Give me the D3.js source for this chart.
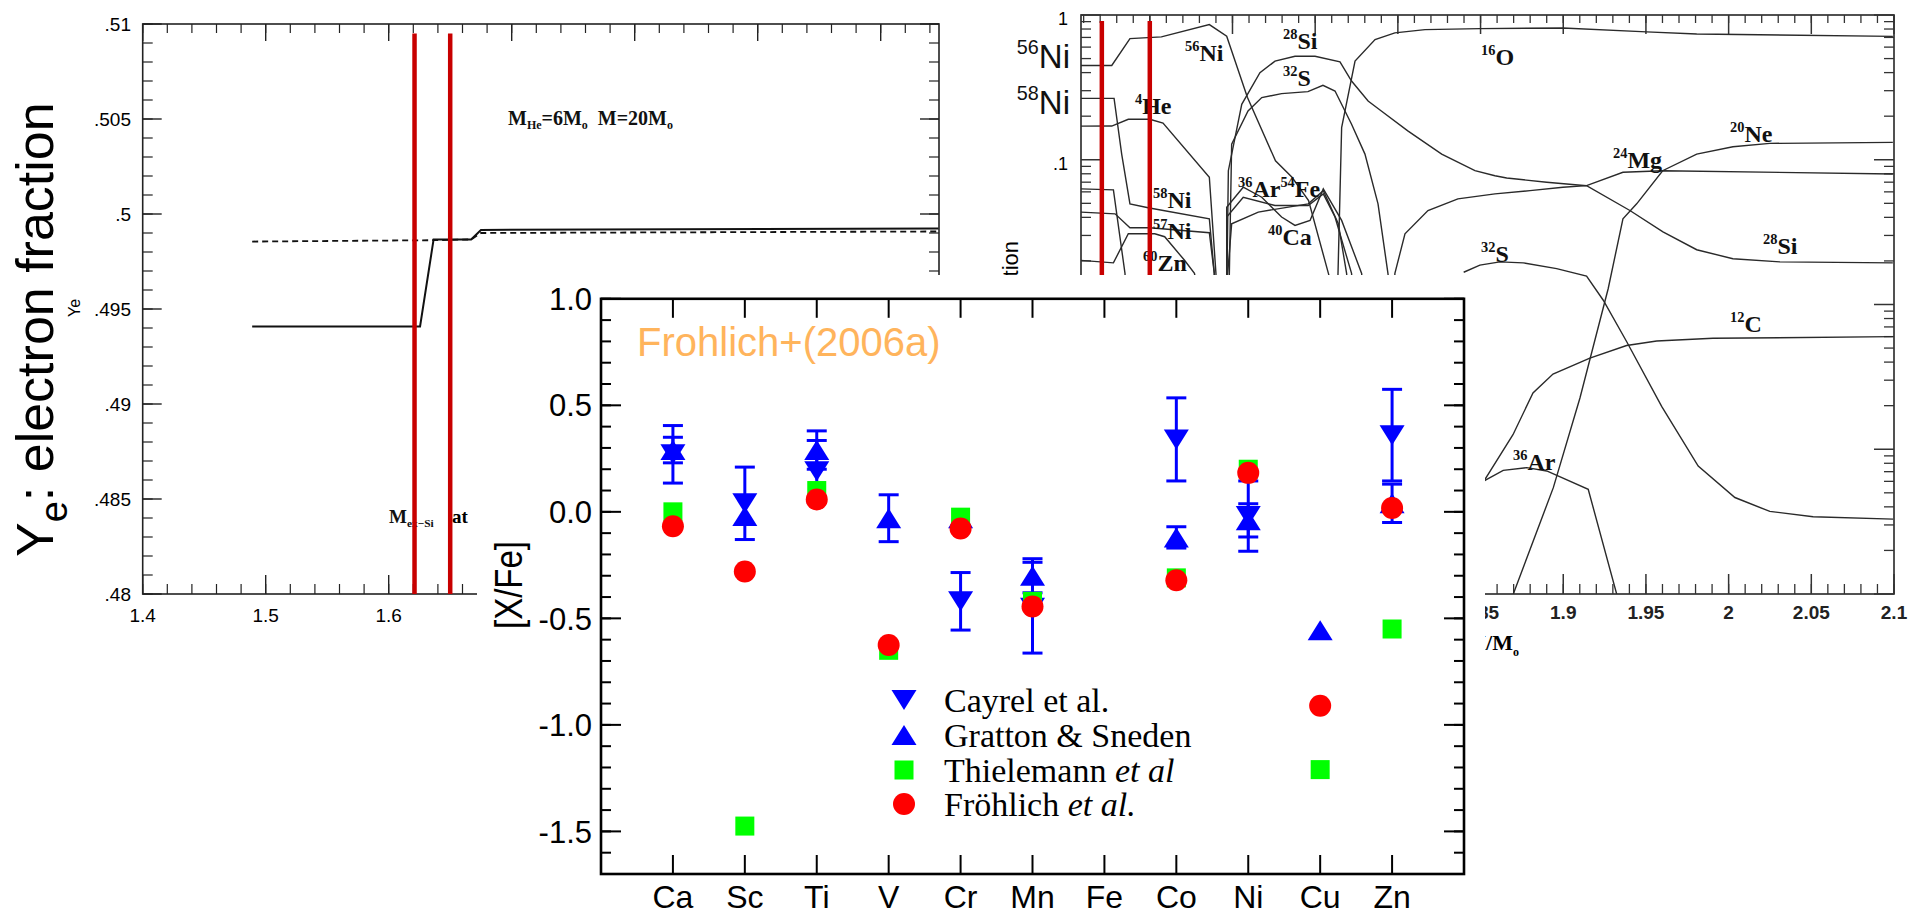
<!DOCTYPE html>
<html>
<head>
<meta charset="utf-8">
<script src="https://cdn.jsdelivr.net/npm/d3@7"></script>
<style>
  body { margin: 0; background: #fff; }
  svg { display: block; }
</style>
</head>
<body>
<div id="chart"></div>
<script>
// ---------- main chart: [X/Fe] ----------
var elements   = ["Ca", "Sc", "Ti", "V", "Cr", "Mn", "Fe", "Co", "Ni", "Cu", "Zn"];
var cayrel     = [0.27, 0.04, 0.19, null, -0.42, -0.45, null, 0.34, -0.02, null, 0.36];
var cayrelErr  = [0.135, 0.17, 0.145, null, 0.135, 0.213, null, 0.195, 0.165, null, 0.215];
var gratton    = [0.29, -0.02, 0.29, -0.03, -0.03, -0.30, null, -0.12, -0.04, -0.556, 0.04];
var grattonErr = [0.06, 0, 0.09, 0.11, 0, 0.08, null, 0.05, 0.078, 0, 0.09];
var thielemann = [0.0, -1.475, 0.10, -0.65, -0.025, -0.42, null, -0.31, 0.20, -1.21, -0.55];
var frohlich   = [-0.068, -0.28, 0.058, -0.625, -0.078, -0.444, null, -0.321, 0.183, -0.91, 0.018];
var xfeTicks   = [1.0, 0.5, 0.0, -0.5, -1.0, -1.5];
var xfeLabels  = ["1.0", "0.5", "0.0", "-0.5", "-1.0", "-1.5"];

// ---------- left panel: Ye vs mass ----------
var yeTicks      = [0.48, 0.485, 0.49, 0.495, 0.5, 0.505, 0.51];
var yeTickLabels = [".48", ".485", ".49", ".495", ".5", ".505", ".51"];
var yeMassTicks  = [1.4, 1.5, 1.6, 1.7, 1.8, 1.9, 2.0];
var yeMassLabels = ["1.4", "1.5", "1.6", "1.7", "1.8", "1.9", "2"];
var yeSolidMass  = [1.489, 1.6255, 1.6365, 1.667, 1.675, 2.047];
var yeSolid      = [0.49408, 0.49408, 0.49866, 0.49866, 0.49916, 0.49924];
var yeDashMass   = [1.489, 1.635, 1.667, 1.675, 2.047];
var yeDash       = [0.49855, 0.49862, 0.49866, 0.49900, 0.49908];
var cutMass      = [1.621, 1.650];

// ---------- right panel: mass fractions [mass, X] ----------
var ni56 = [[1.608,0.448],[1.627,0.448],[1.638,0.687],[1.657,0.706],[1.686,0.858],[1.6965,0.713],[1.709,0.27],[1.726,0.0984],[1.736,0.0757],[1.746,0.0523],[1.758,0.0164],[1.765,0.008]];
var he4  = [[1.608,0.1706],[1.627,0.171],[1.637,0.1905],[1.650,0.1905],[1.658,0.179],[1.686,0.0757],[1.690,0.0164],[1.691,0.002]];
var ni58 = [[1.608,0.2656],[1.6284,0.2656],[1.633,0.1094],[1.638,0.0496],[1.649,0.0466],[1.686,0.0391],[1.689,0.0164],[1.690,0.002]];
var ni57 = [[1.608,0.0435],[1.629,0.0423],[1.638,0.0339],[1.650,0.0339],[1.686,0.0313],[1.689,0.0164],[1.690,0.002]];
var co56 = [[1.608,0.0629],[1.628,0.0619],[1.635,0.0164],[1.636,0.008]];
var zn60 = [[1.608,0.0202],[1.628,0.0194],[1.637,0.0308],[1.653,0.0308],[1.659,0.0294],[1.671,0.0202],[1.677,0.0164],[1.680,0.011]];
var si28 = [[1.6965,0.005],[1.6967,0.0164],[1.6975,0.084],[1.7056,0.2415],[1.7166,0.399],[1.7257,0.48],[1.7378,0.519],[1.7499,0.519],[1.765,0.475],[1.772,0.35],[1.782,0.2545],[1.790,0.2173],[1.806,0.1583],[1.8265,0.1094],[1.8466,0.084],[1.8587,0.0776],[1.8658,0.0748],[1.890,0.0699],[1.9141,0.0662],[1.9403,0.0446],[1.9603,0.0318],[1.9807,0.0239],[2.0026,0.0207],[2.031,0.0197],[2.0993,0.0194]];
var s32Inner = [[1.6973,0.005],[1.6995,0.128],[1.7094,0.2173],[1.7177,0.2687],[1.7297,0.2862],[1.7456,0.2954],[1.7547,0.3265],[1.762,0.2983],[1.772,0.176],[1.7801,0.1094],[1.788,0.0496],[1.794,0.0164],[1.797,0.008]];
var o16  = [[1.763,0.005],[1.7638,0.0164],[1.766,0.167],[1.7741,0.48],[1.7862,0.676],[1.7982,0.752],[1.8164,0.792],[1.8496,0.805],[1.8998,0.814],[1.9504,0.764],[1.9807,0.74],[2.0993,0.712]];
var mg24 = [[1.797,0.008],[1.7982,0.0164],[1.8043,0.0308],[1.8182,0.0446],[1.8363,0.0537],[1.8587,0.0581],[1.8799,0.0612],[1.8998,0.0646],[1.9141,0.0662],[1.9361,0.0819],[1.9603,0.084],[2.0993,0.0797]];
var ne20 = [[1.8698,0.0001],[1.894,0.000543],[1.9101,0.00226],[1.9272,0.0129],[1.9361,0.0391],[1.9444,0.0496],[1.9601,0.084],[1.9807,0.1094],[2.0026,0.1229],[2.0249,0.1297],[2.0993,0.1318]];
var s32Outer = [[1.8398,0.0167],[1.8496,0.0187],[1.8617,0.0197],[1.8758,0.0194],[1.896,0.0177],[1.9141,0.0157],[1.9242,0.0107],[1.9383,0.00555],[1.9595,0.00198],[1.9816,0.000766],[2.0038,0.000464],[2.0249,0.000372],[2.0511,0.000342],[2.0995,0.000329]];
var c12  = [[1.8436,0.000288],[1.8527,0.00062],[1.8696,0.00126],[1.8817,0.00245],[1.8938,0.00331],[1.9161,0.00426],[1.9383,0.00521],[1.9565,0.0056],[1.9905,0.00584],[2.0993,0.006]];
var ar36Outer = [[1.8436,0.000502],[1.8527,0.00061],[1.8637,0.000715],[1.8779,0.000746],[1.89,0.000708],[1.9151,0.000529],[1.9323,0.0001]];
var ar36Inner = [[1.6965,0.005],[1.6965,0.047],[1.7065,0.0646],[1.7177,0.0551],[1.7297,0.0402],[1.7378,0.0352],[1.7469,0.0381],[1.7549,0.0629],[1.766,0.0381],[1.7781,0.0164],[1.78,0.008]];
var fe54 = [[1.6965,0.005],[1.6965,0.0402],[1.7065,0.0551],[1.7257,0.0483],[1.7458,0.0483],[1.7549,0.0581],[1.762,0.0402],[1.772,0.0164],[1.774,0.008]];
var ca40 = [[1.6935,0.005],[1.6995,0.0361],[1.7156,0.0435],[1.7458,0.0496],[1.7549,0.0612],[1.764,0.0361],[1.769,0.0164],[1.771,0.008]];
var massTicks  = [1.65, 1.7, 1.75, 1.8, 1.85, 1.9, 1.95, 2.0, 2.05, 2.1];
var massLabels = ["1.65", "1.7", "1.75", "1.8", "1.85", "1.9", "1.95", "2", "2.05", "2.1"];
var fracTicks  = [1, 0.1, 0.01, 0.001, 0.0001];
var fracLabels = ["1", ".1", ".01", ".001", ".0001"];

var sans = "'Liberation Sans', Arial, Helvetica, sans-serif";
var serif = "'Liberation Serif', 'Times New Roman', serif";

var svg = d3.select("#chart").append("svg")
  .attr("width", 1923).attr("height", 915);

function addTicks(g, vals, side, scale, edge, len, w, color) {
  g.append("g").selectAll("line").data(vals).enter().append("line")
    .attr("x1", function(d) { return (side == "left" || side == "right") ? edge : scale(d); })
    .attr("x2", function(d) {
      if (side == "left") return edge + len;
      if (side == "right") return edge - len;
      return scale(d);
    })
    .attr("y1", function(d) { return (side == "top" || side == "bottom") ? edge : scale(d); })
    .attr("y2", function(d) {
      if (side == "top") return edge + len;
      if (side == "bottom") return edge - len;
      return scale(d);
    })
    .attr("stroke", color).attr("stroke-width", w);
}

// parts: [text, "sup"|"sub"|""]
function richText(g, x, y, parts, size, family, weight, anchor, small) {
  var t = g.append("text").attr("x", x).attr("y", y)
    .attr("font-family", family).attr("font-weight", weight || "normal")
    .attr("text-anchor", anchor || "start").attr("fill", "#111");
  var shift = 0;
  parts.forEach(function(p) {
    var target = p[1] == "sup" ? -size * 0.42 : (p[1] == "sub" ? size * 0.2 : 0);
    t.append("tspan")
      .attr("font-size", p[1] ? size * (small || 0.6) : size)
      .attr("dy", target - shift)
      .text(p[0]);
    shift = target;
  });
  return t;
}

// ===================== left panel =====================
var lp = svg.append("g");
var yeX = d3.scaleLinear().domain([1.4, 2.0474]).range([142.7, 939]);
var yeY = d3.scaleLinear().domain([0.48, 0.51]).range([594, 24]);
var lpColor = "#222";

lp.append("rect").attr("x", yeX.range()[0]).attr("y", yeY.range()[1])
  .attr("width", yeX.range()[1] - yeX.range()[0]).attr("height", yeY.range()[0] - yeY.range()[1])
  .attr("fill", "none").attr("stroke", lpColor).attr("stroke-width", 1.6);

var yeMinor = d3.range(0, 31).map(function(i) { return 0.48 + i * 0.001; });
var massMinorL = d3.range(0, 33).map(function(i) { return 1.4 + i * 0.02; });
addTicks(lp, yeMinor, "left", yeY, yeX.range()[0], 10, 1.2, lpColor);
addTicks(lp, yeTicks, "left", yeY, yeX.range()[0], 19, 1.4, lpColor);
addTicks(lp, yeMinor, "right", yeY, yeX.range()[1], 10, 1.2, lpColor);
addTicks(lp, yeTicks, "right", yeY, yeX.range()[1], 19, 1.4, lpColor);
addTicks(lp, massMinorL, "bottom", yeX, yeY.range()[0], 10, 1.2, lpColor);
addTicks(lp, yeMassTicks, "bottom", yeX, yeY.range()[0], 19, 1.4, lpColor);
addTicks(lp, massMinorL, "top", yeX, yeY.range()[1], 9, 1.2, lpColor);
addTicks(lp, yeMassTicks, "top", yeX, yeY.range()[1], 17, 1.4, lpColor);

lp.selectAll(".yl").data(yeTicks).enter().append("text")
  .attr("x", 131).attr("y", function(d) { return yeY(d); }).attr("dy", "0.35em")
  .attr("text-anchor", "end").attr("font-family", sans).attr("font-size", 19)
  .text(function(d, i) { return yeTickLabels[i]; });
lp.selectAll(".xl").data(yeMassTicks).enter().append("text")
  .attr("x", function(d) { return yeX(d); }).attr("y", 622)
  .attr("text-anchor", "middle").attr("font-family", sans).attr("font-size", 19)
  .text(function(d, i) { return yeMassLabels[i]; });

var yeLine = d3.line()
  .x(function(d) { return yeX(d[0]); })
  .y(function(d) { return yeY(d[1]); });
lp.append("path").datum(d3.zip(yeDashMass, yeDash)).attr("d", yeLine)
  .attr("fill", "none").attr("stroke", "#111").attr("stroke-width", 1.8)
  .attr("stroke-dasharray", "6,4");
lp.append("path").datum(d3.zip(yeSolidMass, yeSolid)).attr("d", yeLine)
  .attr("fill", "none").attr("stroke", "#111").attr("stroke-width", 2);

richText(lp, 508, 125, [["M", ""], ["He", "sub"], ["=6M", ""], ["o", "sub"], ["\u00a0\u00a0M=20M", ""], ["o", "sub"]], 20, serif, "bold");
richText(lp, 389, 523, [["M", ""], ["ex\u2212Si", "sub"]], 19, serif, "bold");
lp.append("text").attr("x", 452).attr("y", 523).attr("font-family", serif)
  .attr("font-weight", "bold").attr("font-size", 19).text("at");

// big axis title
var ytitle = lp.append("text").attr("transform", "translate(53,557) rotate(-90)")
  .attr("font-family", sans).attr("fill", "#000");
ytitle.append("tspan").attr("font-size", 52).text("Y");
ytitle.append("tspan").attr("font-size", 38).attr("dy", 14).text("e");
ytitle.append("tspan").attr("font-size", 52).attr("dy", -14).text(": electron fraction");
lp.append("text").attr("transform", "translate(80,317) rotate(-90)")
  .attr("font-family", sans).attr("font-size", 16).text("Ye");

lp.selectAll(".cut").data(cutMass).enter().append("line")
  .attr("x1", function(d) { return yeX(d); }).attr("x2", function(d) { return yeX(d); })
  .attr("y1", yeY(0.5095)).attr("y2", yeY(0.48))
  .attr("stroke", "#c80000").attr("stroke-width", 4.5);

// ===================== right panel =====================
var rp = svg.append("g");
var xR = d3.scaleLinear().domain([1.6084, 2.1]).range([1081, 1894]);
var yR = d3.scaleLog().domain([1e-4, 1]).range([594, 15]);
var rpColor = "#333";

rp.append("clipPath").attr("id", "rclip").append("rect")
  .attr("x", 1081).attr("y", 15).attr("width", 813).attr("height", 579);

var massMinorR = d3.range(161, 211).map(function(i) { return i / 100; });
var fracMinor = [];
[1e-4, 1e-3, 1e-2, 1e-1].forEach(function(dec) {
  for (var k = 2; k <= 9; k++) fracMinor.push(dec * k);
});
addTicks(rp, massMinorR, "top", xR, 15, 8, 1.3, rpColor);
addTicks(rp, massTicks, "top", xR, 15, 19, 1.5, rpColor);
addTicks(rp, massMinorR, "bottom", xR, 594, 10, 1.3, rpColor);
addTicks(rp, massTicks, "bottom", xR, 594, 20, 1.5, rpColor);
addTicks(rp, fracMinor, "left", yR, 1081, 10, 1.3, rpColor);
addTicks(rp, fracTicks, "left", yR, 1081, 20, 1.5, rpColor);
addTicks(rp, fracMinor, "right", yR, 1894, 10, 1.3, rpColor);
addTicks(rp, fracTicks, "right", yR, 1894, 20, 1.5, rpColor);

rp.append("rect").attr("x", 1081).attr("y", 15).attr("width", 813).attr("height", 579)
  .attr("fill", "none").attr("stroke", rpColor).attr("stroke-width", 1.7);

var rCurves = [ni56, he4, ni58, ni57, co56, zn60, si28, s32Inner, o16, mg24, ne20,
  s32Outer, c12, ar36Outer, ar36Inner, fe54, ca40];
var rLine = d3.line()
  .x(function(d) { return xR(d[0]); })
  .y(function(d) { return yR(d[1]); });
rp.append("g").attr("clip-path", "url(#rclip)")
  .selectAll("path").data(rCurves).enter().append("path")
  .attr("d", rLine).attr("fill", "none").attr("stroke", "#2a2a2a").attr("stroke-width", 1.4);

rp.selectAll(".rxl").data(massTicks).enter().append("text")
  .attr("x", function(d) { return xR(d); }).attr("y", 619)
  .attr("text-anchor", "middle").attr("font-family", sans).attr("font-weight", "bold")
  .attr("font-size", 19).attr("fill", "#222")
  .text(function(d, i) { return massLabels[i]; });
rp.selectAll(".ryl").data(fracTicks).enter().append("text")
  .attr("x", 1068).attr("y", function(d) { return yR(d); }).attr("dy", "0.55em")
  .attr("text-anchor", "end").attr("font-family", sans).attr("font-size", 18)
  .text(function(d, i) { return fracLabels[i]; });

rp.append("text").attr("transform", "translate(1018,241) rotate(-90)")
  .attr("text-anchor", "end").attr("font-family", sans).attr("font-size", 22)
  .text("mass fraction");
rp.append("text").attr("x", 1513).attr("y", 650).attr("text-anchor", "end")
  .attr("font-family", serif).attr("font-weight", "bold").attr("font-size", 22).text("M/M");
rp.append("text").attr("x", 1513).attr("y", 656)
  .attr("font-family", serif).attr("font-weight", "bold").attr("font-size", 12).text("o");

var isoLabels = [
  [1185, 61, [["56", "sup"], ["Ni", ""]]],
  [1283, 49, [["28", "sup"], ["Si", ""]]],
  [1283, 86, [["32", "sup"], ["S", ""]]],
  [1135, 114, [["4", "sup"], ["He", ""]]],
  [1153, 208, [["58", "sup"], ["Ni", ""]]],
  [1153, 239, [["57", "sup"], ["Ni", ""]]],
  [1143, 271, [["60", "sup"], ["Zn", ""]]],
  [1238, 197, [["36", "sup"], ["Ar", ""], ["54", "sup"], ["Fe", ""]]],
  [1268, 245, [["40", "sup"], ["Ca", ""]]],
  [1481, 65, [["16", "sup"], ["O", ""]]],
  [1613, 168, [["24", "sup"], ["Mg", ""]]],
  [1730, 142, [["20", "sup"], ["Ne", ""]]],
  [1763, 254, [["28", "sup"], ["Si", ""]]],
  [1481, 262, [["32", "sup"], ["S", ""]]],
  [1730, 332, [["12", "sup"], ["C", ""]]],
  [1513, 470, [["36", "sup"], ["Ar", ""]]]
];
isoLabels.forEach(function(l) {
  richText(rp, l[0], l[1], l[2], 24, serif, "bold", "start", 0.6);
});
richText(rp, 1070, 68, [["56", "sup"], ["Ni", ""]], 33, sans, "normal", "end");
richText(rp, 1070, 114, [["58", "sup"], ["Ni", ""]], 33, sans, "normal", "end");

rp.selectAll(".cut").data(cutMass).enter().append("line")
  .attr("x1", function(d) { return xR(d); }).attr("x2", function(d) { return xR(d); })
  .attr("y1", yR(0.91)).attr("y2", yR(1e-4))
  .attr("stroke", "#c80000").attr("stroke-width", 4.5);

// ===================== main chart (overlaid) =====================
svg.append("rect").attr("x", 477).attr("y", 275).attr("width", 1008).attr("height", 640)
  .attr("fill", "#fff");

var mc = svg.append("g");
var mx = d3.scaleLinear().domain([-1, elements.length]).range([601, 1464]);
var my = d3.scaleLinear().domain([-1.7, 1.0]).range([874, 298.8]);
var blue = "#0000ff", green = "#00ff00", red = "#ff0000";

var yMinor = d3.range(-17, 11).map(function(i) { return i / 10; });
var catIdx = d3.range(elements.length);
addTicks(mc, yMinor, "left", my, 601, 10, 2, "#000");
addTicks(mc, xfeTicks, "left", my, 601, 20, 2, "#000");
addTicks(mc, yMinor, "right", my, 1464, 10, 2, "#000");
addTicks(mc, xfeTicks, "right", my, 1464, 20, 2, "#000");
addTicks(mc, catIdx, "top", mx, 298.8, 19, 2, "#000");
addTicks(mc, catIdx, "bottom", mx, 874, 19, 2, "#000");
mc.append("rect").attr("x", 601).attr("y", 298.8).attr("width", 863).attr("height", 575.2)
  .attr("fill", "none").attr("stroke", "#000").attr("stroke-width", 2.6);

mc.selectAll(".myl").data(xfeTicks).enter().append("text")
  .attr("x", 592).attr("y", function(d) { return my(d); }).attr("dy", "0.36em")
  .attr("text-anchor", "end").attr("font-family", sans).attr("font-size", 31)
  .text(function(d, i) { return xfeLabels[i]; });
mc.selectAll(".mxl").data(elements).enter().append("text")
  .attr("x", function(d, i) { return mx(i); }).attr("y", 908)
  .attr("text-anchor", "middle").attr("font-family", sans).attr("font-size", 32)
  .text(function(d) { return d; });
mc.append("text").attr("transform", "translate(522,585) rotate(-90) scale(1,1.2)")
  .attr("text-anchor", "middle").attr("font-family", sans).attr("font-size", 33)
  .text("[X/Fe]");
mc.append("text").attr("x", 637).attr("y", 356).attr("font-family", sans)
  .attr("font-size", 40).attr("fill", "#ffb45c").text("Frohlich+(2006a)");

function tri(up, x, y) {
  var h = up ? 10 : -10;
  return "M" + (x - 12.5) + "," + (y + h) + "L" + (x + 12.5) + "," + (y + h) + "L" + x + "," + (y - h) + "Z";
}
function series(vals, errs) {
  return vals.map(function(v, i) { return {i: i, v: v, e: errs ? errs[i] : 0}; })
    .filter(function(d) { return d.v != null; });
}

var obs = [series(cayrel, cayrelErr), series(gratton, grattonErr)];
obs.forEach(function(s, k) {
  var withErr = s.filter(function(d) { return d.e > 0; });
  var eb = mc.append("g").attr("stroke", blue).attr("stroke-width", 3);
  eb.selectAll(".bar").data(withErr).enter().append("line")
    .attr("x1", function(d) { return mx(d.i); }).attr("x2", function(d) { return mx(d.i); })
    .attr("y1", function(d) { return my(d.v + d.e); }).attr("y2", function(d) { return my(d.v - d.e); });
  eb.selectAll(".capT").data(withErr).enter().append("line")
    .attr("x1", function(d) { return mx(d.i) - 10; }).attr("x2", function(d) { return mx(d.i) + 10; })
    .attr("y1", function(d) { return my(d.v + d.e); }).attr("y2", function(d) { return my(d.v + d.e); });
  eb.selectAll(".capB").data(withErr).enter().append("line")
    .attr("x1", function(d) { return mx(d.i) - 10; }).attr("x2", function(d) { return mx(d.i) + 10; })
    .attr("y1", function(d) { return my(d.v - d.e); }).attr("y2", function(d) { return my(d.v - d.e); });
  mc.append("g").selectAll("path").data(s).enter().append("path")
    .attr("d", function(d) { return tri(k == 1, mx(d.i), my(d.v)); })
    .attr("fill", blue);
});

mc.append("g").selectAll("rect").data(series(thielemann)).enter().append("rect")
  .attr("x", function(d) { return mx(d.i) - 9.5; }).attr("y", function(d) { return my(d.v) - 9.5; })
  .attr("width", 19).attr("height", 19).attr("fill", green);
mc.append("g").selectAll("circle").data(series(frohlich)).enter().append("circle")
  .attr("cx", function(d) { return mx(d.i); }).attr("cy", function(d) { return my(d.v); })
  .attr("r", 11).attr("fill", red);

// legend
var legendRows = [700, 735, 770, 804];
var lx = 904, ltx = 944;
mc.append("path").attr("d", tri(false, lx, legendRows[0])).attr("fill", blue);
mc.append("path").attr("d", tri(true, lx, legendRows[1])).attr("fill", blue);
mc.append("rect").attr("x", lx - 9.5).attr("y", legendRows[2] - 9.5)
  .attr("width", 19).attr("height", 19).attr("fill", green);
mc.append("circle").attr("cx", lx).attr("cy", legendRows[3]).attr("r", 11).attr("fill", red);

var legendText = [
  [["Cayrel et al.", false]],
  [["Gratton & Sneden", false]],
  [["Thielemann ", false], ["et al", true]],
  [["Fr\u00f6hlich ", false], ["et al.", true]]
];
legendText.forEach(function(parts, r) {
  var t = mc.append("text").attr("x", ltx).attr("y", legendRows[r] + 11.5)
    .attr("font-family", serif).attr("font-size", 34).attr("fill", "#000");
  parts.forEach(function(p) {
    t.append("tspan").attr("font-style", p[1] ? "italic" : "normal").text(p[0]);
  });
});
</script>
</body>
</html>
